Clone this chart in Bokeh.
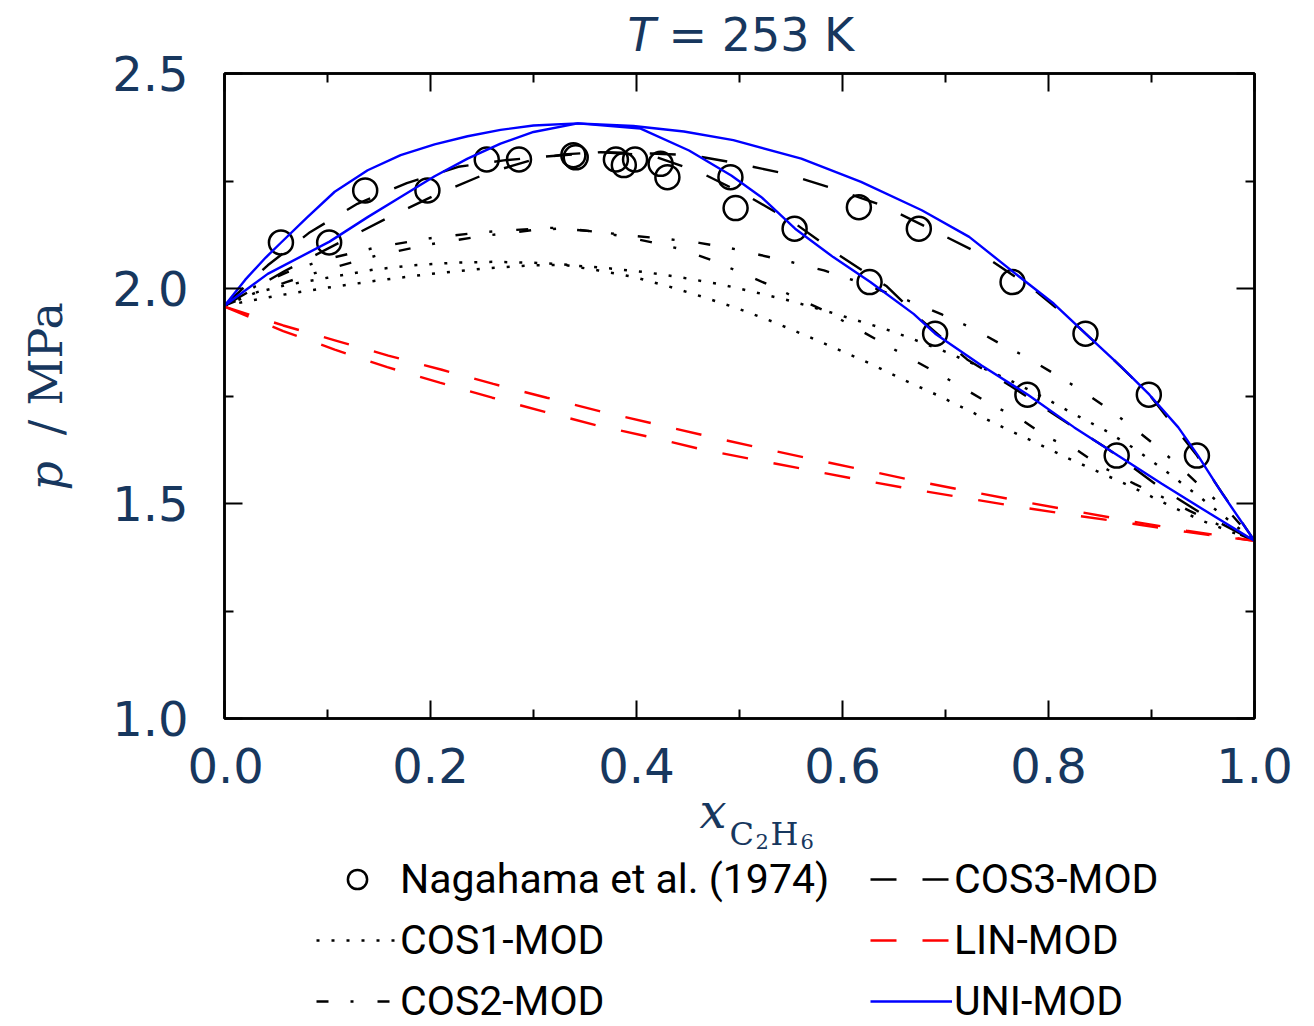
import math
from bokeh.plotting import figure
from bokeh.models import Range1d, LinearAxis, FixedTicker, PrintfTickFormatter, Label, Legend
from bokeh.layouts import column, row
from bokeh.embed import file_html
from bokeh.resources import INLINE

TXT = "#17375E"
NAN = float("nan")

# ---------------- data ----------------
exp_x = [0.0548, 0.1016, 0.1366, 0.197, 0.2546, 0.2859, 0.3387, 0.341, 0.380, 0.3877, 0.3986,
         0.4234, 0.430, 0.4912, 0.4962, 0.5535, 0.6159, 0.6263, 0.6741, 0.6899, 0.7651,
         0.7795, 0.8359, 0.8662, 0.8974, 0.9441]
exp_p = [2.107, 2.107, 2.228, 2.228, 2.300, 2.300, 2.310, 2.305, 2.300, 2.287, 2.300,
         2.290, 2.259, 2.259, 2.187, 2.139, 2.189, 2.015, 2.139, 1.895, 2.015,
         1.753, 1.895, 1.6115, 1.753, 1.6115]

cos1_bub_x = [0, 0.03, 0.06, 0.1, 0.145, 0.184, 0.223, 0.26, 0.3, 0.329, 0.342, 0.373, 0.409, 0.445,
              0.479, 0.514, 0.548, 0.582, 0.614, 0.650, 0.697, 0.731, 0.763, 0.795, 0.824, 0.855,
              0.884, 0.915, 0.947, 1.0]
cos1_bub_p = [1.960, 1.990, 2.008, 2.025, 2.044, 2.054, 2.060, 2.062, 2.060, 2.056, 2.053, 2.047,
              2.038, 2.025, 2.011, 1.992, 1.972, 1.949, 1.926, 1.899, 1.856, 1.821, 1.786, 1.747,
              1.709, 1.670, 1.627, 1.573, 1.515, 1.413]
cos1_dew_x = [0, 0.05, 0.1, 0.15, 0.2, 0.25, 0.3, 0.33, 0.363, 0.397, 0.431, 0.465, 0.499, 0.532,
              0.564, 0.596, 0.629, 0.661, 0.693, 0.726, 0.756, 0.789, 0.819, 0.852, 0.884, 0.915,
              0.947, 1.0]
cos1_dew_p = [1.960, 1.983, 2.002, 2.019, 2.034, 2.046, 2.054, 2.055, 2.042, 2.027, 2.005, 1.980,
              1.953, 1.923, 1.891, 1.858, 1.823, 1.786, 1.751, 1.712, 1.677, 1.640, 1.605, 1.570,
              1.535, 1.498, 1.462, 1.413]

cos2_bub_x = [0, 0.03, 0.06, 0.095, 0.15, 0.2, 0.25, 0.3, 0.317, 0.353, 0.391, 0.430, 0.461, 0.491,
              0.520, 0.551, 0.582, 0.611, 0.668, 0.697, 0.724, 0.752, 0.779, 0.806, 0.832, 0.858,
              0.882, 0.907, 0.928, 0.952, 0.976, 1.0]
cos2_bub_p = [1.960, 2.005, 2.037, 2.066, 2.097, 2.117, 2.131, 2.139, 2.141, 2.134, 2.124, 2.115,
              2.106, 2.094, 2.078, 2.061, 2.042, 2.019, 1.968, 1.939, 1.910, 1.873, 1.840, 1.801,
              1.763, 1.720, 1.677, 1.629, 1.584, 1.530, 1.479, 1.413]
cos2_dew_x = [0, 0.03, 0.06, 0.1, 0.15, 0.2, 0.25, 0.3, 0.33, 0.36, 0.39, 0.414, 0.444, 0.474,
              0.502, 0.530, 0.558, 0.582, 0.614, 0.640, 0.667, 0.693, 0.721, 0.746, 0.775, 0.799,
              0.829, 0.850, 0.884, 0.908, 0.937, 0.969, 1.0]
cos2_dew_p = [1.960, 1.990, 2.015, 2.045, 2.078, 2.103, 2.122, 2.136, 2.140, 2.132, 2.120, 2.108,
              2.091, 2.065, 2.036, 2.007, 1.975, 1.949, 1.907, 1.872, 1.836, 1.802, 1.763, 1.728,
              1.693, 1.654, 1.622, 1.588, 1.545, 1.518, 1.483, 1.446, 1.413]

cos3_bub_x = [0, 0.042, 0.083, 0.129, 0.177, 0.227, 0.271, 0.312, 0.365, 0.414, 0.453, 0.491,
              0.543, 0.593, 0.639, 0.694, 0.738, 0.783, 0.822, 0.861, 0.898, 0.944, 0.969, 1.0]
cos3_bub_p = [1.960, 2.054, 2.131, 2.197, 2.245, 2.283, 2.298, 2.307, 2.317, 2.314, 2.310, 2.294,
              2.268, 2.231, 2.193, 2.128, 2.075, 2.003, 1.926, 1.840, 1.753, 1.612, 1.523, 1.413]
cos3_dew_x = [0, 0.058, 0.111, 0.159, 0.207, 0.255, 0.297, 0.329, 0.365, 0.414, 0.462, 0.509,
              0.554, 0.597, 0.643, 0.677, 0.721, 0.764, 0.810, 0.857, 0.908, 0.947, 1.0]
cos3_dew_p = [1.960, 2.040, 2.106, 2.165, 2.220, 2.268, 2.298, 2.312, 2.317, 2.310, 2.270, 2.214,
              2.151, 2.077, 2.005, 1.926, 1.835, 1.772, 1.700, 1.628, 1.538, 1.479, 1.413]

lin_bub_x = [0, 0.057, 0.108, 0.159, 0.211, 0.261, 0.313, 0.364, 0.416, 0.468, 0.519, 0.571,
             0.623, 0.674, 0.726, 0.778, 0.831, 0.882, 0.934, 1.0]
lin_bub_p = [1.958, 1.914, 1.879, 1.844, 1.811, 1.778, 1.746, 1.715, 1.686, 1.657, 1.630, 1.603,
             1.577, 1.551, 1.527, 1.503, 1.480, 1.458, 1.437, 1.413]
lin_dew_x = [0, 0.057, 0.107, 0.158, 0.209, 0.260, 0.311, 0.361, 0.414, 0.465, 0.517, 0.569,
             0.608, 0.673, 0.726, 0.777, 0.830, 0.882, 0.934, 1.0]
lin_dew_p = [1.958, 1.901, 1.858, 1.817, 1.781, 1.746, 1.713, 1.682, 1.654, 1.625, 1.601, 1.577,
             1.559, 1.531, 1.510, 1.490, 1.471, 1.453, 1.434, 1.413]

uni_bub_x = [0, 0.02, 0.04, 0.055, 0.08, 0.107, 0.139, 0.171, 0.204, 0.236, 0.268, 0.300, 0.343,
             0.397, 0.446, 0.494, 0.560, 0.618, 0.677, 0.723, 0.766, 0.805, 0.836, 0.871, 0.898,
             0.926, 0.945, 0.969, 1.0]
uni_bub_p = [1.960, 2.020, 2.072, 2.107, 2.165, 2.225, 2.275, 2.310, 2.335, 2.354, 2.369, 2.379, 2.384,
             2.378, 2.365, 2.345, 2.302, 2.248, 2.182, 2.120, 2.038, 1.965, 1.895, 1.817, 1.753,
             1.677, 1.612, 1.522, 1.413]
uni_dew_x = [0, 0.042, 0.102, 0.139, 0.171, 0.204, 0.236, 0.268, 0.300, 0.343, 0.404, 0.451,
             0.492, 0.521, 0.554, 0.591, 0.627, 0.669, 0.690, 0.735, 0.780, 0.825, 0.867, 0.910,
             0.957, 1.0]
uni_dew_p = [1.960, 2.034, 2.109, 2.166, 2.213, 2.261, 2.302, 2.337, 2.364, 2.384, 2.372, 2.321,
             2.263, 2.213, 2.139, 2.073, 2.015, 1.941, 1.895, 1.821, 1.753, 1.677, 1.612, 1.546,
             1.476, 1.413]

x_ticks = [0.0, 0.2, 0.4, 0.6, 0.8, 1.0]
x_minor = [0.1, 0.3, 0.5, 0.7, 0.9]
y_ticks = [1.0, 1.5, 2.0, 2.5]
y_minor = [1.25, 1.75, 2.25]

legend_left = ["Nagahama et al. (1974)", "COS1-MOD", "COS2-MOD"]
legend_right = ["COS3-MOD", "LIN-MOD", "UNI-MOD"]

# ---------------- layout sizes (canvas px) ----------------
W, H = 1314, 1026
FRAME_L, FRAME_R, FRAME_T, FRAME_B = 224, 1254, 73, 718
YLAB_W = 110                 # strip with the rotated y label
YTICK_W = 77                 # strip with the y tick labels
RX = YLAB_W + YTICK_W        # left edge of the right column
TOP_H = 67                   # title strip
MAIN_T = FRAME_T - TOP_H
MAIN_B = 82
MAIN_H = MAIN_T + (FRAME_B - FRAME_T) + MAIN_B
BOT_Y = TOP_H + MAIN_H
BOT_H = H - BOT_Y
RW = W - RX


def clean(f):
    f.frame_align = False
    f.grid.visible = False
    f.background_fill_color = "white"
    f.border_fill_color = "white"
    return f


def blank_fig(w, h):
    f = figure(width=w, height=h, output_backend="svg", toolbar_location=None, title=None,
               x_range=Range1d(0, w), y_range=Range1d(0, h),
               x_axis_location=None, y_axis_location=None,
               min_border_left=0, min_border_right=0, min_border_top=0, min_border_bottom=0)
    clean(f)
    f.outline_line_color = None
    return f


# ---------------- main plot ----------------
p = figure(width=RW, height=MAIN_H, output_backend="svg", toolbar_location=None, title=None,
           x_range=Range1d(0, 1), y_range=Range1d(1.0, 2.5),
           min_border_left=FRAME_L - RX, min_border_right=W - FRAME_R,
           min_border_top=MAIN_T, min_border_bottom=MAIN_B)
clean(p)
p.outline_line_color = "black"
p.outline_line_width = 2.5


def style_axis(ax, ticks, minor, show):
    ax.ticker = FixedTicker(ticks=ticks, minor_ticks=minor)
    ax.major_tick_in = 18
    ax.major_tick_out = 0
    ax.minor_tick_in = 9
    ax.minor_tick_out = 0
    ax.major_tick_line_width = 2
    ax.minor_tick_line_width = 2
    ax.major_tick_line_color = "black"
    ax.minor_tick_line_color = "black"
    ax.axis_line_width = 2.5
    ax.axis_line_color = "black"
    if show:
        ax.formatter = PrintfTickFormatter(format="%.1f")
        ax.major_label_text_font = "DejaVu Sans"
        ax.major_label_text_font_size = "48px"
        ax.major_label_text_color = TXT
    else:
        ax.major_label_overrides = {t: "" for t in ticks}
        ax.major_label_text_font_size = "1px"
        ax.major_label_standoff = 0


style_axis(p.xaxis[0], x_ticks, x_minor, True)
style_axis(p.yaxis[0], y_ticks, y_minor, False)
p.xaxis[0].major_label_standoff = 29

top_ax = LinearAxis()
right_ax = LinearAxis()
style_axis(top_ax, x_ticks, x_minor, False)
style_axis(right_ax, y_ticks, y_minor, False)
p.add_layout(top_ax, "above")
p.add_layout(right_ax, "right")

STY = {
    "cos1": dict(line_color="black", line_width=2.5, line_dash="3 12"),
    "cos2": dict(line_color="black", line_width=2.4, line_dash="12 22 3 24"),
    "cos3": dict(line_color="black", line_width=2.4, line_dash="26 26"),
    "lin": dict(line_color="#FF0000", line_width=2.4, line_dash="26 26"),
    "uni": dict(line_color="#0000FF", line_width=2.4),
}
EXP_STY = dict(marker="circle", size=24, fill_color=None, line_color="black", line_width=2.5)

p.line(cos1_bub_x, cos1_bub_p, **STY["cos1"])
p.line(cos1_dew_x, cos1_dew_p, **STY["cos1"])
p.line(cos2_bub_x, cos2_bub_p, **STY["cos2"])
p.line(cos2_dew_x, cos2_dew_p, **STY["cos2"])
p.line(cos3_bub_x, cos3_bub_p, **STY["cos3"])
p.line(cos3_dew_x, cos3_dew_p, **STY["cos3"])
p.scatter(exp_x, exp_p, **EXP_STY)
p.line(lin_bub_x, lin_bub_p, **STY["lin"])
p.line(lin_dew_x, lin_dew_p, **STY["lin"])
p.line(uni_bub_x, uni_bub_p, **STY["uni"])
p.line(uni_dew_x, uni_dew_p, **STY["uni"])

# ---------------- y tick-label strip (shares the y range) ----------------
yt = figure(width=YTICK_W, height=H, output_backend="svg", toolbar_location=None, title=None,
            x_range=Range1d(0, 1), y_range=p.y_range,
            x_axis_location=None, y_axis_location="left",
            min_border_left=YTICK_W - 1, min_border_right=0,
            min_border_top=FRAME_T, min_border_bottom=H - FRAME_B)
clean(yt)
yt.outline_line_color = None
ya = yt.yaxis[0]
ya.ticker = FixedTicker(ticks=y_ticks)
ya.formatter = PrintfTickFormatter(format="%.1f")
ya.major_tick_in = 0
ya.major_tick_out = 0
ya.minor_tick_in = 0
ya.minor_tick_out = 0
ya.major_tick_line_color = None
ya.minor_tick_line_color = None
ya.axis_line_color = None
ya.major_label_text_font = "DejaVu Sans"
ya.major_label_text_font_size = "48px"
ya.major_label_text_color = TXT
ya.major_label_standoff = -1

K = 0.36  # observed offset of the drawn baseline below the anchor, in em


def lab(f, text, cx, cy, ox, oy, font, size, style="normal", angle=0.0, align="left"):
    # (cx, cy): wanted baseline point in page px; (ox, oy): strip's top-left corner
    sx, sy = cx - ox, cy - oy
    if angle == 0.0:
        sy = sy - K * size
    else:
        sx = sx - K * size
    f.add_layout(Label(x=sx, y=f.height - sy, x_units="screen", y_units="screen", text=text,
                       text_font=font, text_font_size=f"{size}px", text_font_style=style,
                       text_color=TXT, text_baseline="alphabetic", text_align=align,
                       angle=angle))


# ---------------- y-label strip ----------------
yl = blank_fig(YLAB_W, H)
lab(yl, "p", 62, 490, 0, 0, "DejaVu Serif", 46, "italic", angle=math.pi / 2)
lab(yl, "/", 62, 427, 0, 0, "DejaVu Serif", 46, angle=math.pi / 2, align="center")
lab(yl, "MPa", 62, 405, 0, 0, "DejaVu Serif", 46, angle=math.pi / 2)

# ---------------- title strip ----------------
top = blank_fig(RW, TOP_H)
lab(top, "T", 627, 51, RX, 0, "DejaVu Sans", 46, "italic")
lab(top, "= 253 K", 668, 51, RX, 0, "DejaVu Sans", 46)

# ---------------- bottom strip: x label + legend ----------------
bot = blank_fig(RW, BOT_H)
lab(bot, "x", 699, 828, RX, BOT_Y, "DejaVu Serif", 48, "italic")
lab(bot, "C", 729, 845, RX, BOT_Y, "DejaVu Serif", 32)
lab(bot, "2", 755, 849, RX, BOT_Y, "DejaVu Serif", 21)
lab(bot, "H", 770, 845, RX, BOT_Y, "DejaVu Serif", 32)
lab(bot, "6", 800, 849, RX, BOT_Y, "DejaVu Serif", 21)

# legend keys: same styles as the main plot's renderers, no visible data
k_exp = bot.scatter([NAN], [NAN], **EXP_STY)
k_cos1 = bot.line([NAN, NAN], [NAN, NAN], **STY["cos1"])
k_cos2 = bot.line([NAN, NAN], [NAN, NAN], **STY["cos2"])
k_cos3 = bot.line([NAN, NAN], [NAN, NAN], **STY["cos3"])
k_lin = bot.line([NAN, NAN], [NAN, NAN], **STY["lin"])
k_uni = bot.line([NAN, NAN], [NAN, NAN], **STY["uni"])

ROW_H, ROW_GAP = 48, 13
LEG_BOTTOM = H - 1   # keep the last row's text inside the canvas


def make_legend(items, left_px):
    lg = Legend(items=items, location=(left_px - RX, H - LEG_BOTTOM),
                orientation="vertical", padding=0, margin=0, spacing=ROW_GAP,
                glyph_width=82, glyph_height=ROW_H, label_height=ROW_H, label_standoff=2,
                label_text_font="Roboto", label_text_font_size="41px",
                label_text_color="black", border_line_color=None,
                background_fill_alpha=0)
    bot.add_layout(lg)


make_legend(list(zip(legend_left, [[k_exp], [k_cos1], [k_cos2]])), 316)
make_legend(list(zip(legend_right, [[k_cos3], [k_lin], [k_uni]])), 870)

layout = row(yl, yt, column(top, p, bot, spacing=0), spacing=0)

open("out.html", "w").write(file_html(layout, INLINE))
